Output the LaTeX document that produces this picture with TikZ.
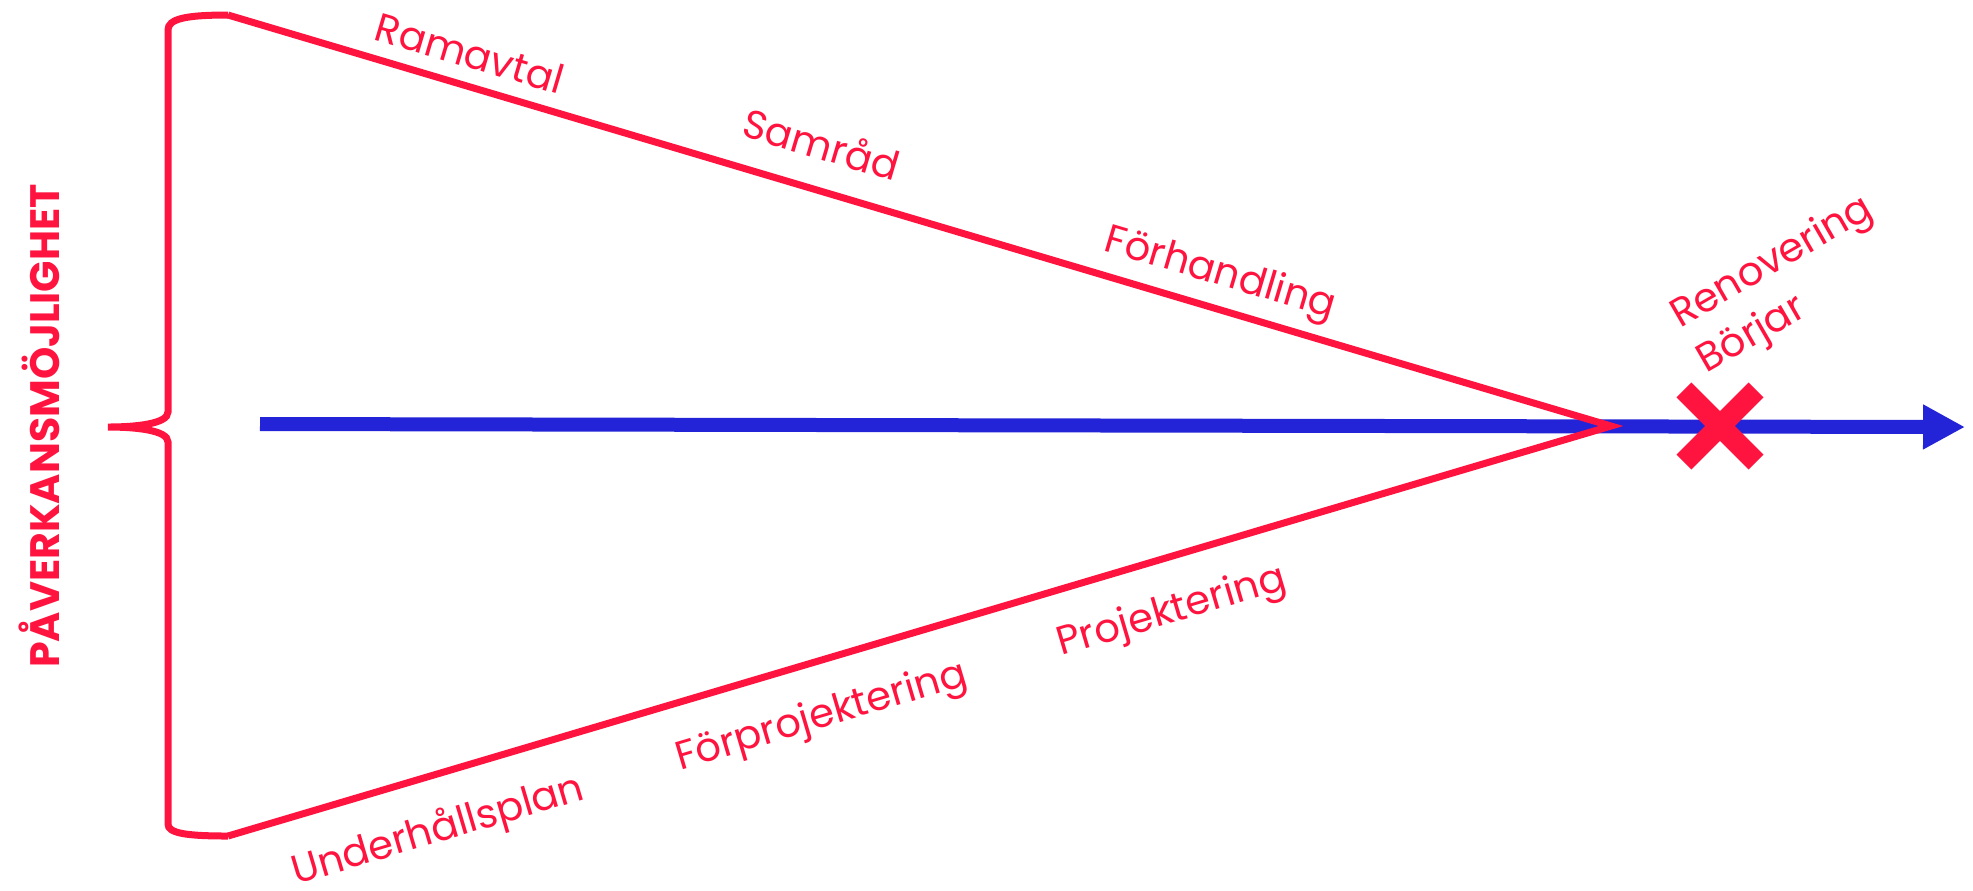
\documentclass[tikz,border=0pt]{standalone}
\usepackage{fontspec}
\setmainfont{Poppins}
\usepackage{xcolor}
\usepackage{tikz}
\usetikzlibrary{arrows.meta}
\usetikzlibrary{shapes.misc}
\definecolor{rosa}{RGB}{255,20,64}
\definecolor{blaa}{RGB}{35,35,215}

\begin{document}
\begin{tikzpicture}[x=0.1mm,y=-0.1mm]
  \tikzstyle{fas}=[draw=rosa, line width=0.7mm, line join=miter]
  \tikzstyle{etikett}=[text=rosa, inner sep=0pt, font=\fontsize{11.4}{15}\selectfont]
  \tikzstyle{kryss}=[draw=rosa, cross out, line width=2.1mm, minimum size=5.12mm, inner sep=0pt]
  \useasboundingbox (0,0) rectangle (1973,890);

  \coordinate (top)  at (228,15);
  \coordinate (spets) at (1611,426);
  \coordinate (botten) at (228,836);
  \coordinate (klo) at (108,427);
  \coordinate (start) at (260,424);
  \coordinate (slut) at (1965,427);

  % tidslinjen
  \draw[blaa, line width=1.4mm, -{Triangle[length=4.2mm,width=4.2mm]}] (start) -- (slut);

  % tratten och klammern
  \path[fas] (top) -- (spets) -- (botten);
  \path[fas] (top) .. controls (185,15) and (168,19) .. (168,30)
      -- (168,412) .. controls (168,424) and (135,427) .. (klo)
      .. controls (135,427) and (168,430) .. (168,442)
      -- (168,824) .. controls (168,833) and (185,836) .. (botten);

  \node[kryss] (kryss) at (1720,426) {};

  \node[etikett, rotate=-16.5] (ramavtal) at (470,53) {Ramavtal};
  \node[etikett, rotate=-16.5] (samrad) at (822,143) {Samråd};
  \node[etikett, rotate=-16.5] (forhandling) at (1220,275) {Förhandling};
  \node[etikett, rotate=16.5] (underhall) at (438,831) {Underhållsplan};
  \node[etikett, rotate=16.5] (forprojekt) at (822,718) {Förprojektering};
  \node[etikett, rotate=16.5] (projekt) at (1172,613) {Projektering};
  \node[etikett, rotate=30, align=left] (renovering) at (1786,286) {Renovering\\Börjar};
  \node[etikett, rotate=90, font=\bfseries\fontsize{11.7}{13}\selectfont] (pav) at (39,426) {PÅVERKANSMÖJLIGHET};
\end{tikzpicture}
\end{document}
